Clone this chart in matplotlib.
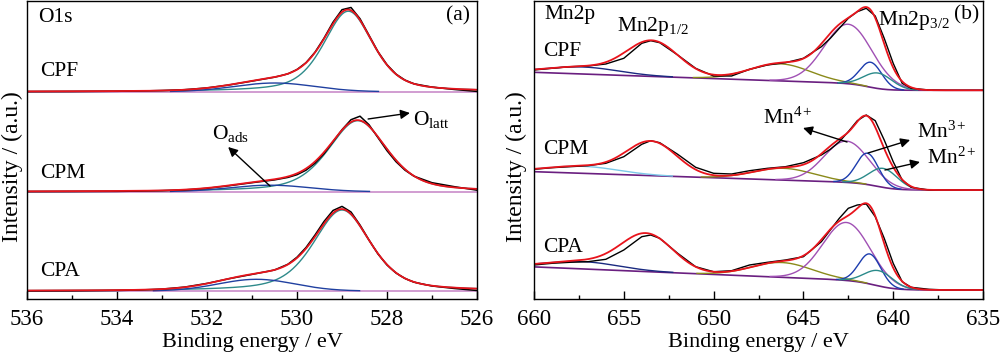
import numpy as np
import matplotlib
matplotlib.use('Agg')
import matplotlib.pyplot as plt
from matplotlib.ticker import MultipleLocator

plt.rcParams['font.family'] = ['Liberation Serif', 'DejaVu Serif']
plt.rcParams['mathtext.fontset'] = 'custom'
plt.rcParams['mathtext.rm'] = 'Liberation Serif'
plt.rcParams['mathtext.it'] = 'Liberation Serif:italic'

# ---------------- O1s panel data ----------------
o1s_samples = ['CPF', 'CPM', 'CPA']
o1s_offsets = [207.3, 107.3, 8.0]
o1s_latt_center = [528.86, 528.65, 529.0]
o1s_latt_height = [80.5, 71.0, 81.0]
o1s_latt_fwhm = [1.3, 1.55, 1.5]
o1s_ads_center = [530.5, 530.6, 530.9]
o1s_ads_height = [8.7, 6.5, 11.7]
o1s_ads_fwhm = [2.1, 2.1, 2.0]
o1s_energy = [536, 535, 534, 533.5, 533, 532.5, 532, 531.5, 531, 530.5, 530.2, 530.0,
              529.8, 529.6, 529.4, 529.2, 529.0, 528.8, 528.6, 528.4, 528.2, 528.0,
              527.8, 527.6, 527.4, 527.0, 526.5, 526]
o1s_cpf = [0, 0.1, 0.4, 0.7, 1.2, 2.0, 3.8, 6.8, 10.6, 14.5, 17.9, 22.2, 29, 39.5, 53.5,
           69.5, 82, 84.2, 73, 56.5, 40, 27, 17.6, 11.6, 7.9, 4.6, 2.2, 0.3]
o1s_cpm = [0, 0.1, 0.3, 0.6, 1.0, 1.8, 3.4, 6.0, 9.0, 11.8, 14.3, 17.0, 21.5, 28.5, 38,
           50, 62, 72, 75.5, 67, 54, 41, 30, 21.5, 15.5, 9.0, 5.0, 1.5]
o1s_cpa = [0, 0.1, 0.5, 1.0, 1.9, 3.9, 7.6, 12.4, 16.6, 21, 26.8, 33.8, 43.5, 56, 69.5,
           80.5, 84.6, 79, 66, 51, 37, 26, 18, 12.5, 8.8, 5.0, 2.5, 0.5]
o1s_data = [o1s_cpf, o1s_cpm, o1s_cpa]

# ---------------- Mn2p panel data ----------------
mn_samples = ['CPF', 'CPM', 'CPA']
mn_offsets = [208.7, 109.0, 9.0]
# Shirley-like background: step centre, step width, step height, slope
mn_bg_center = [641.3, 640.8, 640.9]
mn_bg_width = [0.5, 0.55, 0.6]
mn_bg_height = [6.4, 6.8, 8.8]
mn_bg_slope = [0.62, 0.6, 0.75]
# components: centre, height, fwhm
mn_satL_center = [657.3, 657.3, 657.3]
mn_satL_height = [7.0, 7.0, 7.3]
mn_satL_fwhm = [4.7, 4.7, 4.7]
mn_p12_center = [653.4, 653.45, 653.7]
mn_p12_height = [35.0, 33.5, 37.0]
mn_p12_fwhm = [3.41, 3.3, 3.41]
mn_sat_center = [646.3, 646.1, 646.2]
mn_sat_height = [17.0, 11.7, 14.7]
mn_sat_fwhm = [4.0, 4.0, 4.0]
mn4_center = [642.5, 642.6, 642.6]
mn4_height = [59.5, 41.3, 58.0]
mn4_fwhm = [3.15, 2.95, 3.1]
mn3_center = [641.25, 641.44, 641.3]
mn3_height = [25.0, 31.3, 30.0]
mn3_fwhm = [1.45, 1.45, 1.45]
mn2_center = [640.85, 640.55, 640.8]
mn2_height = [15.5, 19.0, 15.3]
mn2_fwhm = [1.85, 1.85, 1.85]

mn_energy = [660, 659, 658, 657, 656, 655, 654, 653.5, 653, 652, 651, 650, 649, 648,
             647, 646, 645, 644, 643.5, 643, 642.5, 642, 641.5, 641, 640.5, 640,
             639.5, 639, 638, 637, 636, 635]
mn_cpf = [20.3, 22, 23.6, 24.3, 26.3, 32, 47, 49.6, 47.6, 35.3, 22, 14.3, 14.3, 21,
          25.3, 27.6, 32, 43.6, 52, 62, 72, 78.6, 82, 74.3, 52, 27, 7, 2, 0.3, 0, 0, 0]
mn_cpm = [20.7, 22.3, 23.3, 24.3, 26.7, 33.3, 45.7, 49.3, 47.3, 35.7, 22.7, 16.7, 16,
          19.3, 21.7, 23.3, 27.3, 35, 40.7, 48.3, 58.3, 69.3, 75, 69.3, 50, 28.3, 10,
          2.7, 0, 0, 0, 0]
mn_cpa = [25, 26.7, 27.7, 28.3, 30.7, 40, 53.3, 55, 51.7, 36.7, 23.3, 18.3, 19.3, 25,
          27.7, 30, 33.3, 48.3, 60, 71.7, 81.7, 85, 86, 73.3, 51.7, 26.7, 8.3, 2.7,
          0.7, 0, 0, 0]
mn_data = [mn_cpf, mn_cpm, mn_cpa]
mn_satL_colors = ['#1a2a80', '#7cc8e8', '#1a2a80']


def peak(E, c, h, fwhm, eta):
    x = (E - c) / (fwhm / 2.0)
    return h * (eta / (1 + x ** 2) + (1 - eta) * np.exp(-np.log(2) * x ** 2))


def visible(y, base, thr=0.3):
    return np.where(y > thr, base + y, np.nan)


fig = plt.figure(figsize=(10, 3.55), dpi=100)
axL = fig.add_axes([27 / 1000, (355 - 299) / 355, 450 / 1000, 298 / 355])
axR = fig.add_axes([534 / 1000, (355 - 299) / 355, 449 / 1000, 298 / 355])

# ---- left panel ----
EL = np.linspace(536, 526, 1001)
for i in range(3):
    off = o1s_offsets[i]
    latt = peak(EL, o1s_latt_center[i], o1s_latt_height[i], o1s_latt_fwhm[i], 0.5)
    ads = peak(EL, o1s_ads_center[i], o1s_ads_height[i], o1s_ads_fwhm[i], 0.0)
    axL.plot(EL, np.full_like(EL, off), color='#c98cc9', lw=1.2)
    axL.plot(EL, visible(latt, off), color='#2e8a8a', lw=1.0)
    axL.plot(EL, visible(ads, off), color='#2040a0', lw=1.0)
    axL.plot(o1s_energy, np.array(o1s_data[i]) + off, color='black', lw=1.1)
    axL.plot(EL, latt + ads + off, color='#e8141c', lw=1.3)

axL.set_xlim(536, 526)
axL.set_ylim(0, 298)

# ---- right panel ----
ER = np.linspace(660, 635, 1001)
for i in range(3):
    off = mn_offsets[i]
    sig = 1.0 / (1.0 + np.exp(-(ER - mn_bg_center[i]) / mn_bg_width[i]))
    bg = sig * (mn_bg_height[i] + mn_bg_slope[i] * (ER - mn_bg_center[i])) + off
    satL = peak(ER, mn_satL_center[i], mn_satL_height[i], mn_satL_fwhm[i], 0.0)
    p12 = peak(ER, mn_p12_center[i], mn_p12_height[i], mn_p12_fwhm[i], 0.0)
    sat = peak(ER, mn_sat_center[i], mn_sat_height[i], mn_sat_fwhm[i], 0.0)
    m4 = peak(ER, mn4_center[i], mn4_height[i], mn4_fwhm[i], 0.0)
    m3 = peak(ER, mn3_center[i], mn3_height[i], mn3_fwhm[i], 0.0)
    m2 = peak(ER, mn2_center[i], mn2_height[i], mn2_fwhm[i], 0.0)
    axR.plot(ER, bg, color='#6a1f80', lw=1.2)
    axR.plot(ER, visible(satL, bg), color=mn_satL_colors[i], lw=1.0)
    axR.plot(ER, visible(sat, bg), color='#8a8a1a', lw=1.0)
    axR.plot(ER, visible(m4, bg), color='#a050b4', lw=1.0)
    axR.plot(ER, visible(m3, bg), color='#1c3cae', lw=1.0)
    axR.plot(ER, visible(m2, bg), color='#2a8a8a', lw=1.0)
    axR.plot(mn_energy, np.array(mn_data[i]) + off, color='black', lw=1.0)
    axR.plot(ER, bg + satL + p12 + sat + m4 + m3 + m2, color='#e8141c', lw=1.3)

axR.set_xlim(660, 635)
axR.set_ylim(0, 298)

for ax, major, minor in [(axL, 2, 1), (axR, 5, 2.5)]:
    ax.xaxis.set_major_locator(MultipleLocator(major))
    ax.xaxis.set_minor_locator(MultipleLocator(minor))
    ax.tick_params(axis='x', which='major', direction='in', length=6, width=1.0,
                   labelsize=16.5, pad=7, top=False)
    ax.tick_params(axis='x', which='minor', direction='in', length=3, width=1.0, top=False)
    ax.set_yticks([])
    for s in ax.spines.values():
        s.set_linewidth(1.0)
    ax.set_xlabel('Binding energy / eV', fontsize=16, labelpad=2)

fig.text(12 / 1000, 1 - 167 / 355, 'Intensity / (a.u.)', rotation=90, fontsize=17,
         ha='center', va='center')
fig.text(516 / 1000, 1 - 167 / 355, 'Intensity / (a.u.)', rotation=90, fontsize=17,
         ha='center', va='center')

fs = 15.5
# left labels
axL.text(535.76, 281, 'O1s', fontsize=fs, va='center', ha='left')
axL.text(526.16, 283, '(a)', fontsize=fs, va='center', ha='right')
for name, v in zip(o1s_samples, [227, 126, 27]):
    axL.text(535.7, v, name, fontsize=fs, va='center', ha='left')
axL.text(527.42, 179, r'$\mathrm{O}_{\mathrm{latt}}$', fontsize=fs, va='center', ha='left')
axL.annotate('', xy=(527.49, 186), xytext=(528.42, 180),
             arrowprops=dict(arrowstyle='-|>', color='black', lw=1.0, mutation_scale=14,
                             shrinkA=0, shrinkB=0))
axL.text(531.9, 166, r'$\mathrm{O}_{\mathrm{ads}}$', fontsize=fs, va='center', ha='left')
axL.annotate('', xy=(531.53, 152), xytext=(530.6, 113),
             arrowprops=dict(arrowstyle='-|>', color='black', lw=1.0, mutation_scale=14,
                             shrinkA=0, shrinkB=0))

# right labels
axR.text(659.4, 284, 'Mn2p', fontsize=fs, va='center', ha='left')
axR.text(635.2, 284, '(b)', fontsize=fs, va='center', ha='right')
axR.text(655.4, 272, r'$\mathrm{Mn2p}_{1/2}$', fontsize=fs, va='center', ha='left')
axR.text(640.85, 279, r'$\mathrm{Mn2p}_{3/2}$', fontsize=fs, va='center', ha='left')
for name, v in zip(mn_samples, [247, 149, 52]):
    axR.text(659.5, v, name, fontsize=fs, va='center', ha='left')
axR.text(647.25, 181, r'$\mathrm{Mn}^{4+}$', fontsize=fs, va='center', ha='left')
axR.annotate('', xy=(645.02, 171), xytext=(642.57, 157),
             arrowprops=dict(arrowstyle='-|>', color='black', lw=1.0, mutation_scale=14,
                             shrinkA=0, shrinkB=0))
axR.text(638.67, 167, r'$\mathrm{Mn}^{3+}$', fontsize=fs, va='center', ha='left')
axR.annotate('', xy=(639.06, 159), xytext=(641.4, 146),
             arrowprops=dict(arrowstyle='-|>', color='black', lw=1.0, mutation_scale=14,
                             shrinkA=0, shrinkB=0))
axR.text(638.12, 141, r'$\mathrm{Mn}^{2+}$', fontsize=fs, va='center', ha='left')
axR.annotate('', xy=(638.51, 137), xytext=(640.46, 129),
             arrowprops=dict(arrowstyle='-|>', color='black', lw=1.0, mutation_scale=14,
                             shrinkA=0, shrinkB=0))

fig.savefig('out.png', dpi=100)
